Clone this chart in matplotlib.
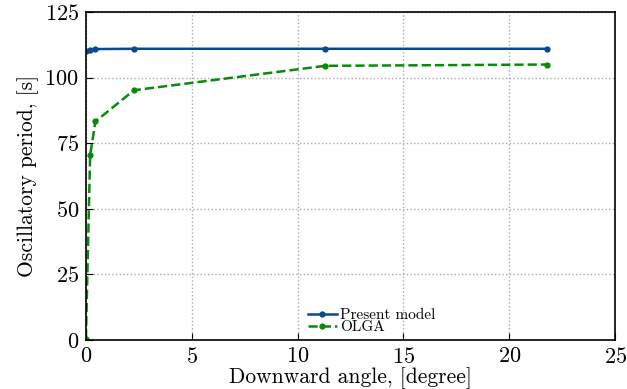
import matplotlib
matplotlib.use("Agg")
import matplotlib.pyplot as plt

plt.rcParams['font.family'] = 'serif'
plt.rcParams['font.serif'] = ['cmr10', 'DejaVu Serif']
plt.rcParams['mathtext.fontset'] = 'cm'
plt.rcParams['axes.formatter.use_mathtext'] = True

# Datos
x_model = [0.0, 0.2, 0.45, 2.27, 11.3, 21.8]
y_model = [110.3, 110.6, 110.9, 111.0, 111.0, 111.0]

x_olga = [0.0, 0.2, 0.45, 2.27, 11.3, 21.8]
y_olga = [0.5, 70.5, 83.3, 95.2, 104.5, 105.0]

fig = plt.figure(figsize=(6.27, 3.89), dpi=100)
ax = fig.add_axes([0.137, 0.126, 0.844, 0.843])

ax.plot(x_model, y_model, '-', color='#0a4a8c', marker='o', markersize=3.5,
        linewidth=1.8, label='Present model')
ax.plot(x_olga, y_olga, '--', color='#0a8a0a', marker='o', markersize=3.5,
        linewidth=1.8, label='OLGA')

ax.set_xlim(0, 25)
ax.set_ylim(0, 125)
ax.set_xticks([0, 5, 10, 15, 20, 25])
ax.set_yticks([0, 25, 50, 75, 100, 125])
ax.tick_params(labelsize=16, direction='in', length=5, pad=5)
ax.grid(True, linestyle=':', color='#aaaaaa', linewidth=1)

ax.set_xlabel("Downward angle, [degree]", fontsize=15.5, labelpad=0)
ax.set_ylabel("Oscillatory period, [s]", fontsize=15.5, labelpad=4)

ax.legend(loc='lower center', bbox_to_anchor=(0.54, -0.015), frameon=False,
          fontsize=11, handlelength=1.9, labelspacing=-0.1, borderpad=0.2,
          handletextpad=0.2)

for s in ax.spines.values():
    s.set_linewidth(1.2)

fig.savefig("out.png", dpi=100)
